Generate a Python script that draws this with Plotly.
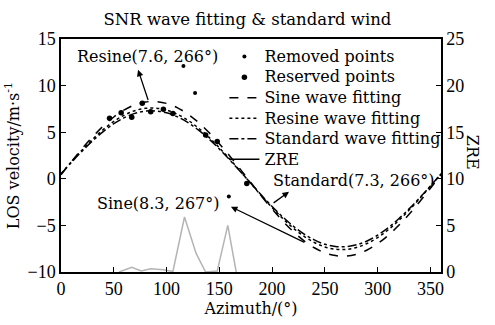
import plotly.graph_objects as go

# Azimuth samples for fitted curves (deg)
az_fit = [0, 10, 20, 30, 40, 50, 60, 70, 80, 90, 100, 110, 120, 130, 140, 150, 160, 170, 180,
          190, 200, 210, 220, 230, 240, 250, 260, 270, 280, 290, 300, 310, 320, 330, 340, 350, 360]
sine_fit = [0.43, 1.87, 3.24, 4.52, 5.66, 6.63, 7.40, 7.94, 8.24, 8.29, 8.09, 7.64, 6.96, 6.07, 4.99,
            3.77, 2.43, 1.01, -0.43, -1.87, -3.24, -4.52, -5.66, -6.63, -7.40, -7.94, -8.24, -8.29,
            -8.09, -7.64, -6.96, -6.07, -4.99, -3.77, -2.43, -1.01, 0.43]
resine_fit = [0.53, 1.84, 3.09, 4.25, 5.28, 6.15, 6.83, 7.31, 7.56, 7.58, 7.37, 6.94, 6.30, 5.47, 4.47,
              3.33, 2.09, 0.79, -0.53, -1.84, -3.09, -4.25, -5.28, -6.15, -6.83, -7.31, -7.56, -7.58,
              -7.37, -6.94, -6.30, -5.47, -4.47, -3.33, -2.09, -0.79, 0.53]
standard_fit = [0.51, 1.77, 2.97, 4.08, 5.07, 5.91, 6.56, 7.02, 7.26, 7.28, 7.08, 6.67, 6.05, 5.25, 4.29,
                3.20, 2.01, 0.76, -0.51, -1.77, -2.97, -4.08, -5.07, -5.91, -6.56, -7.02, -7.26, -7.28,
                -7.08, -6.67, -6.05, -5.25, -4.29, -3.20, -2.01, -0.76, 0.51]

# Observed points
removed_az = [116, 127, 159]
removed_v = [12.1, 9.2, -1.9]
reserved_az = [46, 57, 67, 77, 85, 97, 106, 137, 148, 176]
reserved_v = [6.5, 7.1, 6.6, 8.1, 7.2, 7.45, 7.0, 4.7, 4.0, -0.5]

# ZRE (right axis)
zre_az = [55, 67, 76, 85, 97, 106, 117, 128, 137, 148, 158, 166]
zre_val = [0.0, 0.5, 0.1, 0.35, 0.25, 0.05, 5.9, 2.0, 0.0, 0.1, 5.0, 0.0]

FONT = "DejaVu Serif"
TICKFONT = "Liberation Serif"


def lg(name):
    return '<span style="font-size:16px">' + name + '</span>'


fig = go.Figure()

fig.add_trace(go.Scatter(x=zre_az, y=zre_val, mode="lines", yaxis="y2",
                         line=dict(color="#b4b4b4", width=1.5), showlegend=False))
fig.add_trace(go.Scatter(x=removed_az, y=removed_v, mode="markers", name=lg("Removed points"),
                         marker=dict(color="black", size=4)))
fig.add_trace(go.Scatter(x=reserved_az, y=reserved_v, mode="markers", name=lg("Reserved points"),
                         marker=dict(color="black", size=5.5)))
fig.add_trace(go.Scatter(x=az_fit, y=sine_fit, mode="lines", name=lg("Sine wave fitting"),
                         line=dict(color="black", width=1.5, dash="dash", shape="spline")))
fig.add_trace(go.Scatter(x=az_fit, y=resine_fit, mode="lines", name=lg("Resine wave fitting"),
                         line=dict(color="black", width=1.5, dash="dot", shape="spline")))
fig.add_trace(go.Scatter(x=az_fit, y=standard_fit, mode="lines", name=lg("Standard wave fitting"),
                         line=dict(color="black", width=1.5, dash="dashdot", shape="spline")))
fig.add_trace(go.Scatter(x=[None], y=[None], mode="lines", name=lg("ZRE"),
                         line=dict(color="black", width=1.5)))

axis_common = dict(showline=True, linecolor="black", linewidth=1.5, ticks="inside", ticklen=5,
                   tickcolor="black", showgrid=False, zeroline=False,
                   tickfont=dict(family=TICKFONT, size=18, color="black"))

fig.update_layout(
    width=495, height=325,
    margin=dict(l=60, r=54, t=39, b=51),
    paper_bgcolor="white", plot_bgcolor="white",
    font=dict(family=FONT, size=16, color="black"),
    title=dict(text="SNR wave fitting & standard wind", x=0.5, xanchor="center",
               y=0.94, yanchor="middle", font=dict(family=FONT, size=16.5)),
    xaxis=dict(range=[0, 360], tickvals=[0, 50, 100, 150, 200, 250, 300, 350], mirror=True,
               title=dict(text="Azimuth/(°)", standoff=2, font=dict(family=FONT, size=16)),
               **axis_common),
    yaxis=dict(range=[-10, 15], tickvals=[-10, -5, 0, 5, 10, 15],
               title=dict(text="LOS velocity/m·s<sup>-1</sup>", standoff=4,
                          font=dict(family=FONT, size=16)),
               **axis_common),
    yaxis2=dict(range=[0, 25], tickvals=[0, 5, 10, 15, 20, 25], overlaying="y", side="right",
                **axis_common),
    legend=dict(x=0.43, y=0.99, xanchor="left", yanchor="top", bgcolor="rgba(0,0,0,0)",
                font=dict(family=FONT, size=13.5), tracegroupgap=0),
    showlegend=True,
)

annots = [
    dict(x=73, y=11.7, ax=83, ay=8.3),
    dict(x=216, y=-1.4, ax=200, ay=-2.7),
    dict(x=161, y=-3.0, ax=232, ay=-6.9),
]
for a in annots:
    fig.add_annotation(x=a["x"], y=a["y"], ax=a["ax"], ay=a["ay"], xref="x", yref="y",
                       axref="x", ayref="y", text="", showarrow=True, arrowhead=2,
                       arrowsize=1, arrowwidth=1.3, arrowcolor="black")

labels = [
    dict(text="Resine(7.6, 266°)", x=82, y=13.1),
    dict(text="Sine(8.3, 267°)", x=92.5, y=-2.66),
    dict(text="Standard(7.3, 266°)", x=278, y=-0.2),
]
for lb in labels:
    fig.add_annotation(x=lb["x"], y=lb["y"], xref="x", yref="y", text=lb["text"], showarrow=False,
                       font=dict(family=FONT, size=16, color="black"))

fig.add_annotation(x=1.115, y=0.515, xref="paper", yref="paper", text="ZRE", showarrow=False,
                   textangle=90, font=dict(family=FONT, size=16, color="black"))

fig.write_html("out.html")
